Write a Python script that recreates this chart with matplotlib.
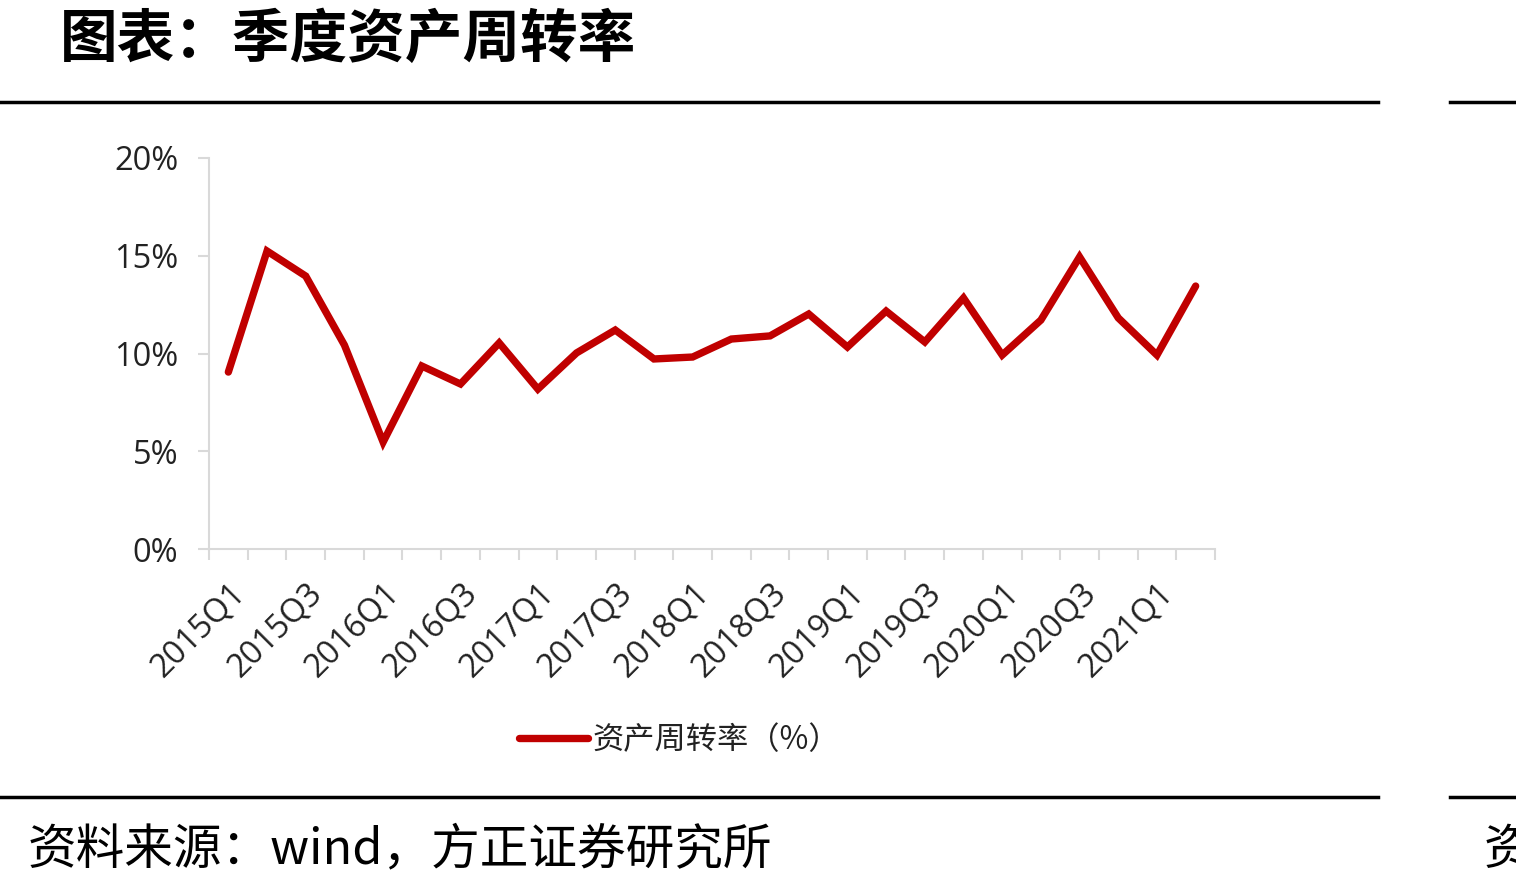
import matplotlib
matplotlib.use("Agg")
import matplotlib.pyplot as plt
from matplotlib.ticker import FixedLocator, PercentFormatter

plt.rcParams['font.family'] = ['Noto Sans CJK SC', 'DejaVu Sans']

quarters = ["2015Q1", "2015Q2", "2015Q3", "2015Q4",
            "2016Q1", "2016Q2", "2016Q3", "2016Q4",
            "2017Q1", "2017Q2", "2017Q3", "2017Q4",
            "2018Q1", "2018Q2", "2018Q3", "2018Q4",
            "2019Q1", "2019Q2", "2019Q3", "2019Q4",
            "2020Q1", "2020Q2", "2020Q3", "2020Q4",
            "2021Q1", "2021Q2"]
turnover = [9.05, 15.24, 13.96, 10.43,
            5.47, 9.36, 8.44, 10.54,
            8.18, 10.03, 11.20, 9.72,
            9.82, 10.74, 10.90, 12.02,
            10.33, 12.17, 10.59, 12.84,
            9.92, 11.71, 14.94, 11.82,
            9.92, 13.45]
series_name = "资产周转率（%）"
title = "图表：季度资产周转率"
source = "资料来源：wind，方正证券研究所"

W, H = 1516, 889
fig = plt.figure(figsize=(W / 100, H / 100), dpi=100)

ax = fig.add_axes([209 / W, 1 - 549 / H, (1215 - 209) / W, (549 - 158) / H])
x = list(range(len(quarters)))
ax.plot(x, turnover, color="#C00000", lw=5.3, solid_joinstyle="miter",
        solid_capstyle="round", label=series_name)

ax.set_xlim(-0.5, len(quarters) - 0.5)
ax.set_ylim(0, 20)
ax.yaxis.set_major_locator(FixedLocator([0, 5, 10, 15, 20]))
ax.yaxis.set_major_formatter(PercentFormatter(decimals=0))

tick_font = ["Open Sans", "DejaVu Sans"]
ax.set_xticks(x[::2])
ax.set_xticklabels(quarters[::2], rotation=45, ha="right", va="top",
                   rotation_mode="anchor", fontsize=23.5, color="#222222",
                   family=tick_font)
ax.tick_params(axis="x", which="major", length=0, pad=20)
ax.set_xticks([i - 0.5 for i in range(len(quarters) + 1)], minor=True)
ax.tick_params(axis="x", which="minor", length=8, width=1.5, color="#D9D9D9")
ax.tick_params(axis="y", which="major", length=8, width=1.5, color="#D9D9D9",
               labelsize=23.5, labelcolor="#222222", pad=14)
for lab in ax.get_yticklabels():
    lab.set_family(tick_font)

for s in ["top", "right"]:
    ax.spines[s].set_visible(False)
for s in ["left", "bottom"]:
    ax.spines[s].set_color("#D9D9D9")
    ax.spines[s].set_linewidth(1.5)

leg = fig.legend(loc="center", bbox_to_anchor=(680 / W, 1 - 740 / H),
                 frameon=False, fontsize=22.5, handlelength=2.2, handletextpad=0.15)
for t in leg.get_texts():
    t.set_color("#222222")

fig.text(60 / W, 1 - 40 / H, title, fontsize=41.5, fontweight="bold",
         va="center", ha="left", color="black")
fig.add_artist(plt.Line2D([0, 1378 / W], [1 - 102 / H] * 2, color="black", lw=2.5))
fig.add_artist(plt.Line2D([1450 / W, 1], [1 - 102 / H] * 2, color="black", lw=2.5))
fig.add_artist(plt.Line2D([0, 1378 / W], [1 - 797 / H] * 2, color="black", lw=2.5))
fig.add_artist(plt.Line2D([1450 / W, 1], [1 - 797 / H] * 2, color="black", lw=2.5))
fig.text(28 / W, 1 - 850 / H, source, fontsize=35, va="center", ha="left",
         color="black")
fig.text(1484 / W, 1 - 850 / H, "资", fontsize=35, va="center", ha="left",
         color="black")

fig.savefig("out.png", dpi=100)
